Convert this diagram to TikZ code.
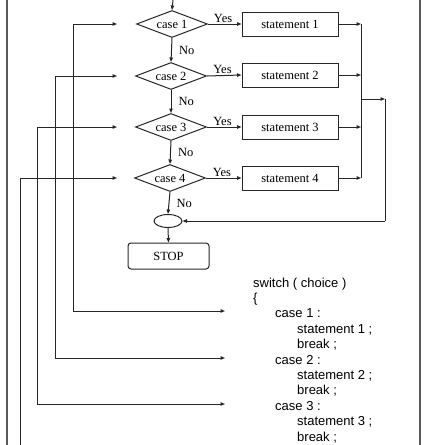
\documentclass[tikz,border=0pt]{standalone}
\usepackage{fontspec}
\setmainfont{Liberation Serif}
\newfontfamily\codefont{Liberation Sans}
\usetikzlibrary{shapes.geometric,arrows.meta}
\begin{document}
\begin{tikzpicture}[x=1pt,y=1pt,
  ln/.style={draw=black!85,line width=1pt},
  arr/.style={ln,-{Triangle[length=4.5pt,width=3.5pt]}},
  dia/.style={diamond,draw=black!85,line width=1pt,aspect=2.6,inner sep=0.5pt,minimum width=71pt,minimum height=27pt,font=\fontsize{12.5}{14}\selectfont},
  stm/.style={rectangle,draw=black!85,line width=1pt,minimum width=96pt,minimum height=24pt,inner sep=0pt,font=\fontsize{12.5}{14}\selectfont},
  lbl/.style={font=\fontsize{12.5}{14}\selectfont,inner sep=0pt},
  code/.style={anchor=base west,inner sep=0pt,font=\codefont\fontsize{13}{15}\selectfont},
  border/.style={draw=black!65,line width=1.2pt}]
\useasboundingbox (0,0) rectangle (431,-445);
% borders
\draw[border] (7,0) -- (7,-445);
\draw[border] (420,0) -- (420,-445);
% decisions
\node[dia] (c1) at (172,-24) {case 1};
\node[dia] (c2) at (171,-76) {case 2};
\node[dia] (c3) at (171,-127) {case 3};
\node[dia] (c4) at (170,-178) {case 4};
% statements
\node[stm] (s1) at (290,-24) {statement 1};
\node[stm] (s2) at (290,-75) {statement 2};
\node[stm] (s3) at (290,-127) {statement 3};
\node[stm] (s4) at (290,-178) {statement 4};
% join and stop
\node[ellipse,draw=black!85,line width=1pt,minimum width=28pt,minimum height=13pt,inner sep=0pt] (e) at (168,-221) {};
\node[rectangle,rounded corners=3pt,draw=black!85,line width=1pt,minimum width=81pt,minimum height=26pt,inner sep=0pt,font=\fontsize{12.5}{14}\selectfont] (stop) at (168.5,-256) {STOP};
% entry
\coordinate (top) at (173,0);
\draw[arr] (top) -- (c1.north);
% No links
\draw[arr] (c1.south) -- node[lbl,right,xshift=7pt] {No} (c2.north);
\draw[arr] (c2.south) -- node[lbl,right,xshift=7pt] {No} (c3.north);
\draw[arr] (c3.south) -- node[lbl,right,xshift=7pt] {No} (c4.north);
\draw[arr] (c4.south) -- node[lbl,right,xshift=7pt] {No} (e.north);
\draw[arr] (e.south) -- (stop.north);
% Yes links
\draw[arr] (c1.east) -- node[lbl,above,pos=0.45,yshift=1pt] {Yes} (s1.west);
\draw[arr] (c2.east) -- node[lbl,above,pos=0.45,yshift=1pt] {Yes} (s2.west);
\draw[arr] (c3.east) -- node[lbl,above,pos=0.45,yshift=1pt] {Yes} (s3.west);
\draw[arr] (c4.east) -- node[lbl,above,pos=0.45,yshift=1pt] {Yes} (s4.west);
% merge
\coordinate (j1) at (361,-24);
\coordinate (j2) at (361,-75);
\coordinate (j3) at (361,-127);
\coordinate (j4) at (361,-178);
\coordinate (jm) at (361,-99);
\coordinate (r1) at (385,-99);
\coordinate (r2) at (385,-221);
\draw[arr] (s1.east) -- (j1);
\draw[arr] (s2.east) -- (j2);
\draw[arr] (s3.east) -- (j3);
\draw[arr] (s4.east) -- (j4);
\draw[ln] (j1) -- (j4);
\draw[arr] (jm) -- (r1);
\draw[ln] (r1) -- (r2);
\draw[arr] (r2) -- (e.east);
% left links to code
\coordinate (k1) at (73,-24);
\coordinate (k2) at (55,-76);
\coordinate (k3) at (37,-127);
\coordinate (k4) at (20,-178);
\coordinate (a1) at (117,-24);
\coordinate (a2) at (117,-76);
\coordinate (a3) at (117,-127);
\coordinate (a4) at (117,-178);
\coordinate (b1) at (225,-311);
\coordinate (b2) at (225,-358);
\coordinate (b3) at (225,-404);
\coordinate (b4) at (20,-445);
\draw[arr] (k1) -- (a1);
\draw[arr] (k1) |- (b1);
\draw[arr] (k2) -- (a2);
\draw[arr] (k2) |- (b2);
\draw[arr] (k3) -- (a3);
\draw[arr] (k3) |- (b3);
\draw[arr] (k4) -- (a4);
\draw[ln] (k4) -- (b4);
% code
\node[code] (t1) at (253,-287) {switch ( choice )};
\node[code] (t2) at (253,-302.4) {\{};
\node[code] (t3) at (275,-317.8) {case 1 :};
\node[code] (t4) at (297,-333.2) {statement 1 ;};
\node[code] (t5) at (297,-348.6) {break ;};
\node[code] (t6) at (275,-364) {case 2 :};
\node[code] (t7) at (297,-379.4) {statement 2 ;};
\node[code] (t8) at (297,-394.8) {break ;};
\node[code] (t9) at (275,-410.2) {case 3 :};
\node[code] (t10) at (297,-425.6) {statement 3 ;};
\node[code] (t11) at (297,-441) {break ;};
\end{tikzpicture}
\end{document}
